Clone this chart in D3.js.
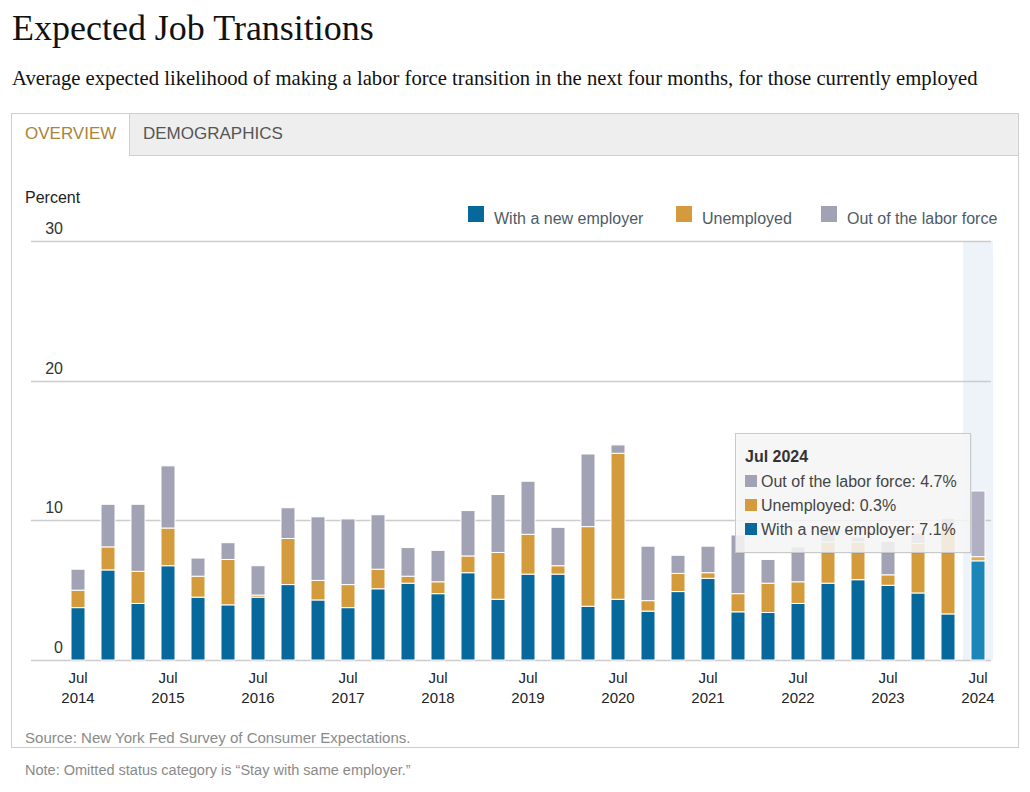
<!DOCTYPE html>
<html>
<head>
<meta charset="utf-8">
<script src="https://cdn.jsdelivr.net/npm/d3@7"></script>
<style>
  html, body { margin: 0; padding: 0; background: #fff; }
  svg { display: block; }
</style>
</head>
<body>
<svg id="chart" width="1030" height="792"></svg>
<script>
const periods = ["Jul 2014","Nov 2014","Mar 2015","Jul 2015","Nov 2015","Mar 2016","Jul 2016","Nov 2016","Mar 2017","Jul 2017","Nov 2017","Mar 2018","Jul 2018","Nov 2018","Mar 2019","Jul 2019","Nov 2019","Mar 2020","Jul 2020","Nov 2020","Mar 2021","Jul 2021","Nov 2021","Mar 2022","Jul 2022","Nov 2022","Mar 2023","Jul 2023","Nov 2023","Mar 2024","Jul 2024"];
const newEmployer = [3.75, 6.45, 4.05, 6.75, 4.5, 3.95, 4.5, 5.4, 4.3, 3.75, 5.1, 5.5, 4.75, 6.25, 4.35, 6.15, 6.15, 3.85, 4.35, 3.5, 4.9, 5.85, 3.45, 3.4, 4.05, 5.5, 5.75, 5.35, 4.8, 3.3, 7.1];
const unemployed = [1.25, 1.65, 2.3, 2.7, 1.5, 3.25, 0.15, 3.3, 1.4, 1.65, 1.4, 0.5, 0.85, 1.2, 3.35, 2.85, 0.6, 5.7, 10.45, 0.75, 1.3, 0.4, 1.3, 2.1, 1.55, 2.95, 2.7, 0.75, 3.55, 6.3, 0.3];
const outOfLaborForce = [1.5, 3.05, 4.8, 4.45, 1.3, 1.2, 2.1, 2.2, 4.55, 4.7, 3.9, 2.05, 2.25, 3.25, 4.15, 3.8, 2.75, 5.2, 0.6, 3.9, 1.3, 1.9, 4.2, 1.7, 2.5, 0.6, 0.35, 2.4, 0.75, 0.55, 4.7];
const seriesNames = ["With a new employer", "Unemployed", "Out of the labor force"];
const seriesKeys = ["newEmployer", "unemployed", "outOfLaborForce"];
const yTicks = [0, 10, 20, 30];
const highlighted = "Jul 2024";

const colors = { newEmployer: "#07699b", unemployed: "#d39b3b", outOfLaborForce: "#a2a2b5" };
const hoverColors = { newEmployer: "#1d86b8", unemployed: "#e0ad52", outOfLaborForce: "#b0b0c2" };

const rows = periods.map((p, i) => ({ period: p, newEmployer: newEmployer[i], unemployed: unemployed[i], outOfLaborForce: outOfLaborForce[i] }));

const svg = d3.select("#chart");
const sans = "'Liberation Sans', Arial, sans-serif";
const serif = "'Liberation Serif', 'DejaVu Serif', Georgia, serif";

function fitText(sel, width) {
  const node = sel.node();
  let fs = parseFloat(sel.attr("font-size"));
  const w = node.getComputedTextLength();
  sel.attr("font-size", fs * width / w);
}

// Title & subtitle
const title = svg.append("text").attr("x", 12).attr("y", 40).attr("font-family", serif)
  .attr("font-size", 30).attr("fill", "#111").text("Expected Job Transitions");
fitText(title, 362);
const sub = svg.append("text").attr("x", 12).attr("y", 85).attr("font-family", serif)
  .attr("font-size", 18).attr("fill", "#111")
  .text("Average expected likelihood of making a labor force transition in the next four months, for those currently employed");
fitText(sub, 966);

// Frame and tabs
svg.append("rect").attr("x", 11.5).attr("y", 113.5).attr("width", 1007).attr("height", 42)
  .attr("fill", "#eeeeee").attr("stroke", "none");
svg.append("rect").attr("x", 11.5).attr("y", 113.5).attr("width", 118).attr("height", 43)
  .attr("fill", "#fff");
svg.append("line").attr("x1", 129.5).attr("x2", 1018.5).attr("y1", 155.5).attr("y2", 155.5).attr("stroke", "#cfcfcf");
svg.append("line").attr("x1", 129.5).attr("x2", 129.5).attr("y1", 113.5).attr("y2", 155.5).attr("stroke", "#cfcfcf");
svg.append("rect").attr("x", 11.5).attr("y", 113.5).attr("width", 1007).attr("height", 634)
  .attr("fill", "none").attr("stroke", "#cfcfcf");
svg.append("text").attr("x", 25).attr("y", 139).attr("font-family", sans).attr("font-size", 17)
  .attr("fill", "#a9843b").text("OVERVIEW");
svg.append("text").attr("x", 143).attr("y", 139).attr("font-family", sans).attr("font-size", 17)
  .attr("fill", "#555").text("DEMOGRAPHICS");

// Scales
const x = d3.scaleBand().domain(periods).range([63, 993]).paddingInner(0.5333).paddingOuter(0.2667);
const y = d3.scaleLinear().domain([0, 30]).range([660, 241]);

// highlight column
svg.append("rect").attr("x", x(highlighted) - x.step() * 0.5333 / 2).attr("y", y(30))
  .attr("width", x.step()).attr("height", y(0) - y(30)).attr("fill", "#eef3f9");

// Gridlines
svg.append("g").selectAll("line").data(yTicks).join("line")
  .attr("x1", 31).attr("x2", 991)
  .attr("y1", d => Math.round(y(d)) + 0.5).attr("y2", d => Math.round(y(d)) + 0.5)
  .attr("stroke", "#cccccc").attr("stroke-width", 1.5);
svg.append("g").selectAll("text").data(yTicks).join("text")
  .attr("x", 63).attr("y", d => y(d) - 7).attr("text-anchor", "end")
  .attr("font-family", sans).attr("font-size", 16).attr("fill", "#333").text(d => d);
svg.append("text").attr("x", 25).attr("y", 203).attr("font-family", sans).attr("font-size", 16)
  .attr("fill", "#222").text("Percent");

// Stacked bars
const stack = d3.stack().keys(seriesKeys);
const stacked = stack(rows);
svg.append("g").selectAll("g").data(stacked).join("g")
  .each(function (layer) {
    d3.select(this).selectAll("rect").data(layer).join("rect")
      .attr("x", d => x(d.data.period))
      .attr("width", x.bandwidth())
      .attr("y", d => y(d[1]))
      .attr("height", d => Math.max(0, y(d[0]) - y(d[1])))
      .attr("fill", d => d.data.period === highlighted ? hoverColors[layer.key] : colors[layer.key])
      .attr("stroke", "#fff").attr("stroke-width", 1);
  });

// X axis labels (July only)
const julPeriods = periods.filter(p => p.startsWith("Jul"));
const xl = svg.append("g").selectAll("text").data(julPeriods).join("text")
  .attr("x", d => x(d) + x.bandwidth() / 2).attr("text-anchor", "middle")
  .attr("font-family", sans).attr("font-size", 15).attr("fill", "#222");
xl.append("tspan").attr("x", d => x(d) + x.bandwidth() / 2).attr("y", 683).text(d => d.split(" ")[0]);
xl.append("tspan").attr("x", d => x(d) + x.bandwidth() / 2).attr("y", 703).text(d => d.split(" ")[1]);

// Legend
const legendPos = [468, 676, 821];
const lg = svg.append("g").selectAll("g").data(seriesKeys).join("g")
  .attr("transform", (d, i) => `translate(${legendPos[i]},206)`);
lg.append("rect").attr("width", 16).attr("height", 16).attr("fill", d => colors[d]);
lg.append("text").attr("x", 26).attr("y", 18).attr("font-family", sans).attr("font-size", 16)
  .attr("fill", "#4e5b66").text((d, i) => seriesNames[i]);

// Tooltip
const hi = periods.indexOf(highlighted);
const tip = svg.append("g").attr("transform", "translate(735,433)");
tip.append("rect").attr("x", 1.5).attr("y", 1.5).attr("width", 235).attr("height", 119).attr("fill", "rgba(0,0,0,0.08)");
tip.append("rect").attr("x", 0.5).attr("y", 0.5).attr("width", 235).attr("height", 119)
  .attr("fill", "rgba(248,248,248,0.86)").attr("stroke", "#c9c9c9");
tip.append("text").attr("x", 10).attr("y", 29).attr("font-family", sans).attr("font-size", 16)
  .attr("font-weight", "bold").attr("fill", "#333").text(highlighted);
const tipKeys = ["outOfLaborForce", "unemployed", "newEmployer"];
const tipVals = { newEmployer: newEmployer[hi], unemployed: unemployed[hi], outOfLaborForce: outOfLaborForce[hi] };
const tipNames = { newEmployer: seriesNames[0], unemployed: seriesNames[1], outOfLaborForce: seriesNames[2] };
const tr = tip.selectAll("g.row").data(tipKeys).join("g").attr("class", "row")
  .attr("transform", (d, i) => `translate(10,${48 + i * 24})`);
tr.append("rect").attr("x", 0).attr("y", -6).attr("width", 12).attr("height", 12).attr("fill", d => colors[d]);
tr.append("text").attr("x", 16).attr("y", 6).attr("font-family", sans).attr("font-size", 16)
  .attr("fill", "#444").text(d => `${tipNames[d]}: ${d3.format(".1f")(tipVals[d])}%`);

// Source & note
const src = svg.append("text").attr("x", 25).attr("y", 743).attr("font-family", sans).attr("font-size", 15)
  .attr("fill", "#8a8a8a").text("Source: New York Fed Survey of Consumer Expectations.");
fitText(src, 386);
const note = svg.append("text").attr("x", 25).attr("y", 775).attr("font-family", sans).attr("font-size", 14)
  .attr("fill", "#8a8a8a").text("Note: Omitted status category is \u201cStay with same employer.\u201d");
fitText(note, 386);
</script>
</body>
</html>
